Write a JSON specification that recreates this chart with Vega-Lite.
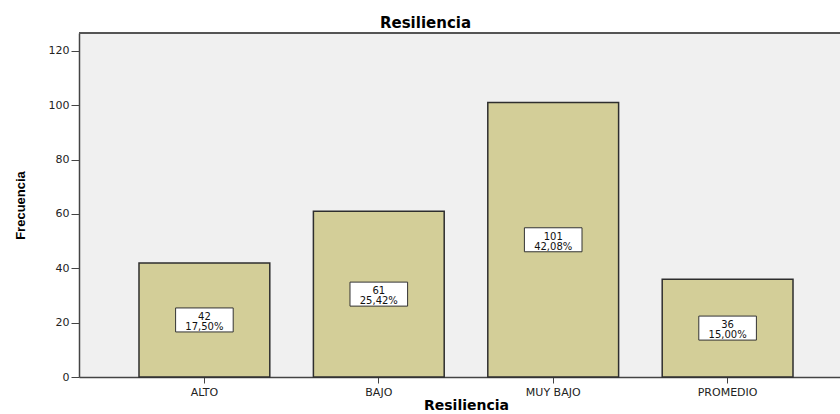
{
  "$schema": "https://vega.github.io/schema/vega-lite/v6.json",
  "width": 761,
  "height": 344,
  "autosize": {"type": "none"},
  "padding": {"left": 79, "top": 33, "right": 0, "bottom": 37},
  "background": "#ffffff",
  "title": {
    "text": "Resiliencia",
    "font": "DejaVu Sans",
    "fontWeight": "bold",
    "fontSize": 15,
    "color": "#000000",
    "anchor": "middle",
    "dx": -34,
    "dy": 16,
    "baseline": "alphabetic",
    "offset": 5
  },
  "config": {
    "view": {"fill": "#f0f0f0", "stroke": null},
    "axis": {"grid": false}
  },
  "data": {
    "values": [
      {"Resiliencia": "ALTO", "count": 42, "pct": "17,50%"},
      {"Resiliencia": "BAJO", "count": 61, "pct": "25,42%"},
      {"Resiliencia": "MUY BAJO", "count": 101, "pct": "42,08%"},
      {"Resiliencia": "PROMEDIO", "count": 36, "pct": "15,00%"}
    ]
  },
  "layer": [
    {
      "mark": {"type": "bar", "fill": "#d3ce98", "stroke": "#2e2e2e", "strokeWidth": 1.5},
      "encoding": {
        "x": {
          "field": "Resiliencia",
          "type": "nominal",
          "sort": null,
          "scale": {"range": [0, 774], "paddingInner": 0.25, "paddingOuter": 0.344},
          "axis": {
            "title": "Resiliencia",
            "labelAngle": 0,
            "labelFont": "DejaVu Sans",
            "labelFontSize": 11,
            "labelColor": "#222222",
            "labelPadding": 3,
            "tickSize": 6,
            "tickColor": "#444444",
            "domainColor": "#444444",
            "domainWidth": 1.5,
            "titleFont": "DejaVu Sans",
            "titleFontWeight": "bold",
            "titleFontSize": 14,
            "titleColor": "#000000",
            "titleBaseline": "alphabetic",
            "titleY": 32
          }
        },
        "y": {
          "field": "count",
          "type": "quantitative",
          "scale": {"domain": [0, 126.6], "nice": false},
          "axis": {
            "title": "Frecuencia",
            "values": [0, 20, 40, 60, 80, 100, 120],
            "labelFont": "DejaVu Sans",
            "labelFontSize": 11,
            "labelColor": "#222222",
            "labelPadding": 2,
            "tickSize": 8,
            "tickColor": "#444444",
            "domainColor": "#444444",
            "domainWidth": 1.5,
            "titleFont": "Liberation Sans",
            "titleFontWeight": "bold",
            "titleFontSize": 13,
            "titleColor": "#000000",
            "titlePadding": 21
          }
        }
      }
    },
    {
      "mark": {"type": "rule", "color": "#555555", "strokeWidth": 1.5},
      "encoding": {
        "y": {"datum": 126.6, "type": "quantitative", "scale": {"domain": [0, 126.6], "nice": false}, "axis": null}
      }
    },
    {
      "mark": {"type": "point", "shape": "M-2.4,-1L2.4,-1L2.4,1L-2.4,1Z", "size": 576, "filled": true, "fill": "#ffffff", "stroke": "#333333", "strokeWidth": 1, "opacity": 1},
      "encoding": {
        "x": {"field": "Resiliencia", "type": "nominal", "sort": null},
        "y": {"field": "count", "type": "quantitative", "scale": {"domain": [0, 253.2], "nice": false}, "axis": null}
      }
    },
    {
      "mark": {"type": "text", "font": "DejaVu Sans", "fontSize": 10, "color": "#111111", "baseline": "alphabetic", "dy": 0},
      "encoding": {
        "x": {"field": "Resiliencia", "type": "nominal", "sort": null},
        "y": {"field": "count", "type": "quantitative", "scale": {"domain": [0, 253.2], "nice": false}, "axis": null},
        "text": {"field": "count", "type": "quantitative"}
      }
    },
    {
      "mark": {"type": "text", "font": "DejaVu Sans", "fontSize": 10, "color": "#111111", "baseline": "alphabetic", "dy": 10},
      "encoding": {
        "x": {"field": "Resiliencia", "type": "nominal", "sort": null},
        "y": {"field": "count", "type": "quantitative", "scale": {"domain": [0, 253.2], "nice": false}, "axis": null},
        "text": {"field": "pct", "type": "nominal"}
      }
    }
  ],
  "resolve": {"scale": {"y": "independent"}}
}
